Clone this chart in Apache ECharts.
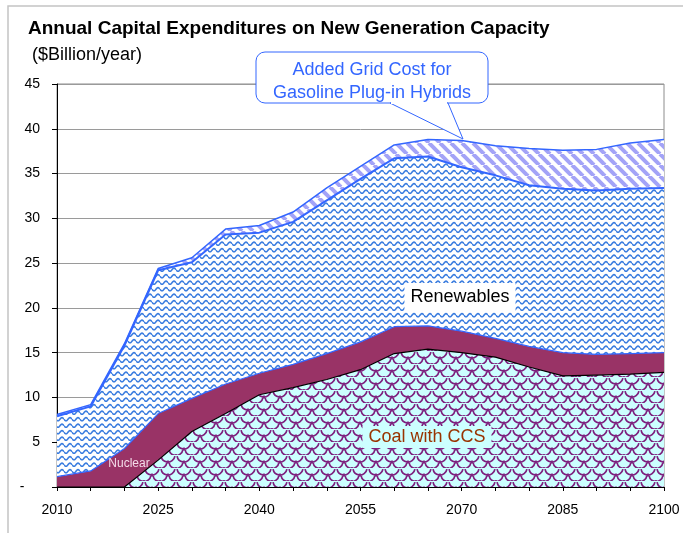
<!DOCTYPE html>
<html>
<head>
<meta charset="utf-8">
<script src="https://cdn.jsdelivr.net/npm/echarts@6/dist/echarts.min.js"></script>
<style>
  html, body { margin: 0; padding: 0; background: #fff; }
  #main { width: 683px; height: 533px; }
</style>
</head>
<body>
<div id="main"></div>
<script>
// years on the x axis (every 5 years)
var years = ['2010','2015','2020','2025','2030','2035','2040','2045','2050','2055',
             '2060','2065','2070','2075','2080','2085','2090','2095','2100'];

// $Billion/year, stacked from the bottom up
var coalCCS    = [0, 0, 0, 3.0, 6.2, 8.2, 10.3, 11.1, 12.0, 13.1, 14.9, 15.4, 15.0, 14.5, 13.4, 12.4, 12.5, 12.6, 12.8];
var nuclear    = [1.15, 1.8, 4.3, 5.2, 3.7, 3.3, 2.4, 2.6, 2.9, 3.1, 3.0, 2.6, 2.4, 2.1, 2.3, 2.6, 2.3, 2.3, 2.2];
var renewables = [6.75, 7.2, 11.5, 16.0, 15.2, 16.7, 15.7, 15.9, 17.1, 18.2, 18.8, 18.9, 18.3, 18.2, 18.0, 18.3, 18.3, 18.4, 18.4];
var gridCost   = [0.2, 0.2, 0.2, 0.2, 0.5, 0.6, 0.8, 1.1, 1.4, 1.4, 1.5, 1.9, 3.0, 3.3, 4.1, 4.3, 4.6, 5.1, 5.4];

var FONT = 'Liberation Sans, Arial, sans-serif';

// fill patterns (like the excel hatch fills)
function makeTile(w, h, draw) {
	var c = document.createElement('canvas');
	c.width = w; c.height = h;
	var ctx = c.getContext('2d');
	draw(ctx, w, h);
	return { image: c, repeat: 'repeat' };
}

var wavePattern = makeTile(8, 13, function(ctx, w, h){
	ctx.fillStyle = '#ffffff';
	ctx.fillRect(0, 0, w, h);
	ctx.strokeStyle = '#3b7ddf';
	ctx.lineWidth = 1.6;
	[3.2, 9.7].forEach(function(y0){
		ctx.beginPath();
		for (var x = 0; x <= w; x += 0.5) {
			var y = y0 + 1.6 * Math.sin(2 * Math.PI * x / w);
			if (x == 0) ctx.moveTo(x, y); else ctx.lineTo(x, y);
		}
		ctx.stroke();
	});
});

var stripePattern = makeTile(11, 11, function(ctx, w, h){
	ctx.fillStyle = '#ffffff';
	ctx.fillRect(0, 0, w, h);
	ctx.strokeStyle = '#a3a3f7';
	ctx.lineWidth = 4;
	for (var k = -w; k <= w; k += w) {
		ctx.beginPath();
		ctx.moveTo(k, 0);
		ctx.lineTo(k + w, h);
		ctx.stroke();
	}
});

var scalePattern = makeTile(16, 13, function(ctx, w, h){
	ctx.fillStyle = '#ccffff';
	ctx.fillRect(0, 0, w, h);
	ctx.strokeStyle = '#7d1f7d';
	ctx.lineWidth = 1.7;
	var centers = [[w/2, 0], [0, h/2], [w, h/2], [w/2, h]];
	centers.forEach(function(p){
		ctx.beginPath();
		ctx.arc(p[0], p[1], w/2 - 1, 0.05 * Math.PI, 0.95 * Math.PI);
		ctx.stroke();
	});
	// little joints between the scales
	ctx.beginPath();
	ctx.moveTo(w/2, h/2 - 1); ctx.lineTo(w/2, h/2 + 2);
	ctx.moveTo(0, h - 1); ctx.lineTo(0, h);
	ctx.moveTo(w, h - 1); ctx.lineTo(w, h);
	ctx.stroke();
});

var myChart = echarts.init(document.getElementById('main'), null, { renderer: 'canvas' });

var option = {
	backgroundColor: '#ffffff',
	animation: false,
	textStyle: { fontFamily: FONT },
	grid: { left: 57, top: 84, right: 19, bottom: 46, show: true, borderColor: '#8c8c8c', borderWidth: 1, backgroundColor: 'transparent' },
	xAxis: {
		type: 'category',
		boundaryGap: false,
		data: years,
		axisLine: { lineStyle: { color: '#000', width: 1 } },
		axisTick: { show: true, interval: 0, length: 4, lineStyle: { color: '#000' } },
		axisLabel: { interval: 2, color: '#000', fontSize: 14, fontFamily: FONT, margin: 16 },
		splitLine: { show: false }
	},
	yAxis: {
		type: 'value',
		min: 0, max: 45, interval: 5,
		axisLine: { show: true, lineStyle: { color: '#000', width: 1 } },
		axisTick: { show: true, length: 5, lineStyle: { color: '#000' } },
		axisLabel: {
			color: '#000', fontSize: 14, fontFamily: FONT, margin: 17,
			formatter: function(v){ return v == 0 ? '-    ' : String(v); }
		},
		splitLine: { show: true, lineStyle: { color: '#9a9a9a', width: 1 } }
	},
	series: [
		{
			name: 'Coal with CCS', type: 'line', stack: 'total', data: coalCCS,
			showSymbol: false, z: 2,
			lineStyle: { color: '#000000', width: 1.2 },
			areaStyle: { color: scalePattern, opacity: 1 }
		},
		{
			name: 'Nuclear', type: 'line', stack: 'total', data: nuclear,
			showSymbol: false, z: 2,
			lineStyle: { color: '#3366ff', width: 1.2 },
			areaStyle: { color: '#993366', opacity: 1 }
		},
		{
			name: 'Renewables', type: 'line', stack: 'total', data: renewables,
			showSymbol: false, z: 2,
			lineStyle: { color: '#3366ff', width: 2 },
			areaStyle: { color: wavePattern, opacity: 1 }
		},
		{
			name: 'Added Grid Cost', type: 'line', stack: 'total', data: gridCost,
			showSymbol: false, z: 2,
			lineStyle: { color: '#3366ff', width: 1.5 },
			areaStyle: { color: stripePattern, opacity: 1 }
		}
	],
	graphic: [
		// outer chart frame
		{ type: 'rect', z: 0, silent: true, shape: { x: 8, y: 6, width: 690, height: 540 },
		  style: { fill: 'none', stroke: '#c4c4c4', lineWidth: 1.5 } },
		{ type: 'text', z: 100, x: 28, y: 29,
		  style: { text: 'Annual Capital Expenditures on New Generation Capacity', font: 'bold 19px ' + FONT, fill: '#000', verticalAlign: 'middle' } },
		{ type: 'text', z: 100, x: 32, y: 55,
		  style: { text: '($Billion/year)', font: '18px ' + FONT, fill: '#000', verticalAlign: 'middle' } },
		// callout for the grid cost band
		{ type: 'rect', z: 100, shape: { x: 256, y: 52, width: 232, height: 51, r: 9 },
		  style: { fill: '#ffffff', stroke: '#3366ff', lineWidth: 1 } },
		{ type: 'polygon', z: 101, shape: { points: [[390, 103], [463, 139], [448, 103]] },
		  style: { fill: '#ffffff', stroke: '#3366ff', lineWidth: 1 } },
		{ type: 'line', z: 102, shape: { x1: 391, y1: 103, x2: 447, y2: 103 },
		  style: { stroke: '#ffffff', lineWidth: 2 } },
		{ type: 'text', z: 103, x: 372, y: 70,
		  style: { text: 'Added Grid Cost for', font: '18px ' + FONT, fill: '#3366ff', align: 'center', verticalAlign: 'middle' } },
		{ type: 'text', z: 103, x: 372, y: 93,
		  style: { text: 'Gasoline Plug-in Hybrids', font: '18px ' + FONT, fill: '#3366ff', align: 'center', verticalAlign: 'middle' } },
		// series labels
		{ type: 'text', z: 100, x: 460, y: 297,
		  style: { text: 'Renewables', font: '18px ' + FONT, fill: '#000', align: 'center', verticalAlign: 'middle',
		           backgroundColor: '#ffffff', padding: [5, 6, 5, 6] } },
		{ type: 'text', z: 100, x: 427, y: 437,
		  style: { text: 'Coal with CCS', font: '18px ' + FONT, fill: '#993300', align: 'center', verticalAlign: 'middle',
		           backgroundColor: '#ccffff', padding: [2, 6, 2, 6] } },
		{ type: 'text', z: 100, x: 129, y: 464,
		  style: { text: 'Nuclear', font: '12px ' + FONT, fill: '#f3dbe8', align: 'center', verticalAlign: 'middle' } }
	]
};

myChart.setOption(option);
</script>
</body>
</html>
